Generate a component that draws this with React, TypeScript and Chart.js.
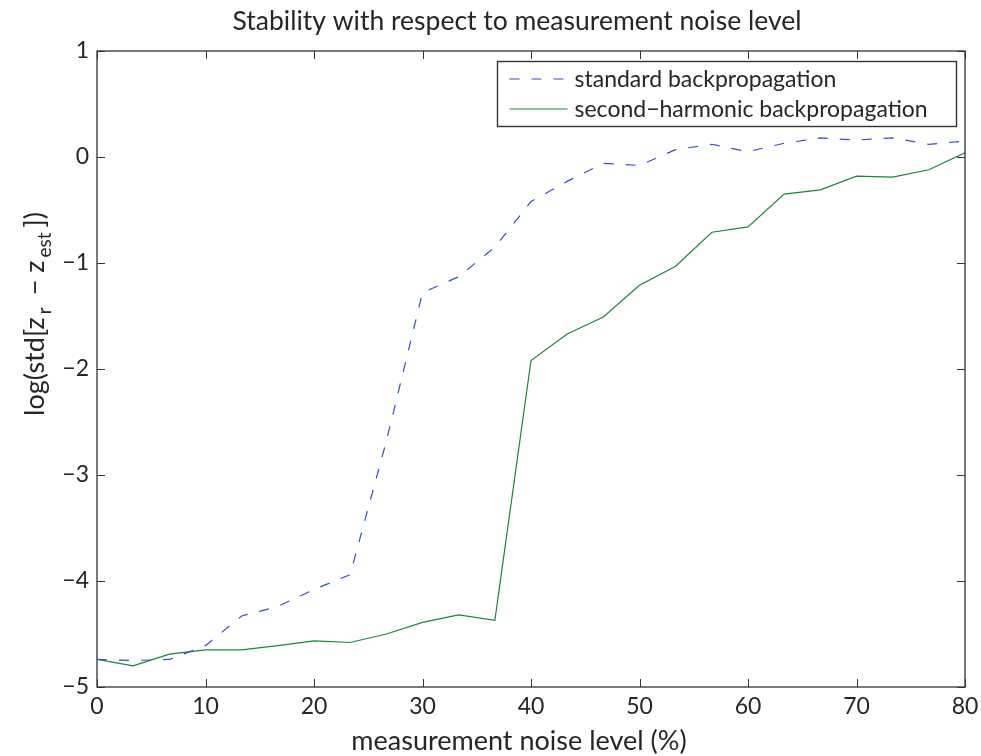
import React, { useEffect, useRef } from 'react';
import { Chart, registerables } from 'chart.js';

Chart.register(...registerables);

// ---- data ----
const noiseLevels = [0, 3.33, 6.67, 10, 13.33, 16.67, 20, 23.33, 26.67, 30, 33.33, 36.67, 40, 43.33, 46.67, 50, 53.33, 56.67, 60, 63.33, 66.67, 70, 73.33, 76.67, 80];
const standardBP = [-4.74, -4.75, -4.74, -4.61, -4.33, -4.24, -4.08, -3.94, -2.68, -1.28, -1.13, -0.85, -0.42, -0.23, -0.06, -0.08, 0.07, 0.12, 0.05, 0.13, 0.18, 0.16, 0.18, 0.12, 0.15];
const secondHarmonicBP = [-4.74, -4.8, -4.69, -4.65, -4.65, -4.61, -4.565, -4.58, -4.5, -4.39, -4.32, -4.37, -1.92, -1.67, -1.51, -1.21, -1.03, -0.71, -0.66, -0.35, -0.31, -0.18, -0.19, -0.12, 0.04];
const xTicks = [0, 10, 20, 30, 40, 50, 60, 70, 80];
const yTicks = [-5, -4, -3, -2, -1, 0, 1];
const titleText = 'Stability with respect to measurement noise level';
const xLabelText = 'measurement noise level (%)';
const seriesNames = ['standard backpropagation', 'second\u2212harmonic backpropagation'];

const FONT = 'Lato, "Open Sans", sans-serif';
const TEXT = '#262626';
const AXIS = '#333333';
const BLUE = '#3050c8';
const GREEN = '#1a853c';
const DASH = [10, 12];

const fmt = (v: number) => (v < 0 ? '\u2212' + Math.abs(v) : String(v));

const decorations = {
  id: 'decorations',
  afterDatasetsDraw(chart: any) {
    const ctx = chart.ctx as CanvasRenderingContext2D;
    const a = chart.chartArea;
    const xs = chart.scales.x;
    const ys = chart.scales.y;
    ctx.save();
    // box
    ctx.strokeStyle = AXIS;
    ctx.lineWidth = 1.3;
    ctx.strokeRect(a.left, a.top, a.right - a.left, a.bottom - a.top);
    // inward ticks
    const tl = 8;
    ctx.lineWidth = 1;
    ctx.beginPath();
    xTicks.forEach((v) => {
      const px = Math.round(xs.getPixelForValue(v)) + 0.5;
      ctx.moveTo(px, a.bottom);
      ctx.lineTo(px, a.bottom - tl);
      ctx.moveTo(px, a.top);
      ctx.lineTo(px, a.top + tl);
    });
    yTicks.forEach((v) => {
      const py = Math.round(ys.getPixelForValue(v)) + 0.5;
      ctx.moveTo(a.left, py);
      ctx.lineTo(a.left + tl, py);
      ctx.moveTo(a.right, py);
      ctx.lineTo(a.right - tl, py);
    });
    ctx.stroke();

    // legend
    const lw = 459;
    const lh = 65;
    const lx = Math.round(a.right - 9 - lw) + 0.5;
    const ly = Math.round(a.top + 10) + 0.5;
    ctx.fillStyle = '#ffffff';
    ctx.fillRect(lx, ly, lw, lh);
    ctx.strokeStyle = AXIS;
    ctx.lineWidth = 1.4;
    ctx.strokeRect(lx, ly, lw, lh);
    const rows = [ly + 17.5, ly + 47.5];
    const colors = [BLUE, GREEN];
    rows.forEach((ry, i) => {
      ctx.strokeStyle = colors[i];
      ctx.lineWidth = 1.2;
      ctx.setLineDash(i === 0 ? DASH : []);
      ctx.beginPath();
      ctx.moveTo(lx + 12, ry);
      ctx.lineTo(lx + 70, ry);
      ctx.stroke();
      ctx.setLineDash([]);
      ctx.fillStyle = TEXT;
      ctx.font = `23px ${FONT}`;
      ctx.textAlign = 'left';
      ctx.textBaseline = 'middle';
      ctx.fillText(seriesNames[i], lx + 77, ry + 1);
    });

    // title
    ctx.fillStyle = TEXT;
    ctx.font = `26.5px ${FONT}`;
    ctx.textAlign = 'center';
    ctx.textBaseline = 'alphabetic';
    ctx.fillText(titleText, 517, 30);
    // x label
    ctx.font = `27px ${FONT}`;
    ctx.fillText(xLabelText, 519, 750);

    // y label with subscripts
    ctx.save();
    ctx.translate(44, 314);
    ctx.rotate(-Math.PI / 2);
    const big = `27px ${FONT}`;
    const small = `19px ${FONT}`;
    const parts: [string, boolean, number][] = [
      ['log(std[z', false, 3],
      ['r', true, 12],
      ['\u2212 z', false, 3],
      ['est', true, 5],
      ['])', false, 0],
    ];
    let total = 0;
    parts.forEach(([t, sub, gap]) => {
      ctx.font = sub ? small : big;
      total += ctx.measureText(t).width + gap;
    });
    let cx = -total / 2;
    ctx.textAlign = 'left';
    parts.forEach(([t, sub, gap]) => {
      ctx.font = sub ? small : big;
      ctx.fillText(t, cx, sub ? 7 : 0);
      cx += ctx.measureText(t).width + gap;
    });
    ctx.restore();

    ctx.restore();
  },
};

export default function App() {
  const ref = useRef<HTMLCanvasElement | null>(null);
  useEffect(() => {
    if (!ref.current) return;
    const chart = new Chart(ref.current, {
      type: 'line',
      data: {
        datasets: [
          {
            label: seriesNames[0],
            data: noiseLevels.map((x, i) => ({ x, y: standardBP[i] })),
            borderColor: BLUE,
            borderWidth: 1.2,
            borderDash: DASH,
            pointRadius: 0,
            fill: false,
            tension: 0,
          },
          {
            label: seriesNames[1],
            data: noiseLevels.map((x, i) => ({ x, y: secondHarmonicBP[i] })),
            borderColor: GREEN,
            borderWidth: 1.2,
            pointRadius: 0,
            fill: false,
            tension: 0,
          },
        ],
      },
      options: {
        responsive: false,
        animation: false,
        layout: { padding: { left: 0, right: 16, top: 51, bottom: 0 } },
        plugins: {
          legend: { display: false },
          title: { display: false },
          tooltip: { enabled: false },
        },
        scales: {
          x: {
            type: 'linear',
            min: 0,
            max: 80,
            grid: { display: false, drawTicks: false },
            border: { display: false },
            afterBuildTicks: (s: any) => {
              s.ticks = xTicks.map((v) => ({ value: v }));
            },
            afterFit: (s: any) => {
              s.height = 69;
              s.paddingLeft = 0;
              s.paddingRight = 0;
            },
            ticks: {
              color: TEXT,
              font: { family: FONT, size: 23 },
              padding: 6,
              maxRotation: 0,
              autoSkip: false,
              callback: (v: any) => fmt(Number(v)),
            },
          },
          y: {
            type: 'linear',
            min: -5,
            max: 1,
            grid: { display: false, drawTicks: false },
            border: { display: false },
            afterBuildTicks: (s: any) => {
              s.ticks = yTicks.map((v) => ({ value: v }));
            },
            afterFit: (s: any) => {
              s.width = 97;
              s.paddingTop = 0;
              s.paddingBottom = 0;
            },
            ticks: {
              color: TEXT,
              font: { family: FONT, size: 23 },
              padding: 8,
              autoSkip: false,
              callback: (v: any) => fmt(Number(v)),
            },
          },
        },
      },
      plugins: [decorations],
    });
    return () => chart.destroy();
  }, []);
  return (
    <div style={{ position: 'absolute', left: 0, top: 0, width: 981, height: 756, background: '#fff' }}>
      <canvas ref={ref} width={981} height={756} style={{ display: 'block' }} />
    </div>
  );
}
